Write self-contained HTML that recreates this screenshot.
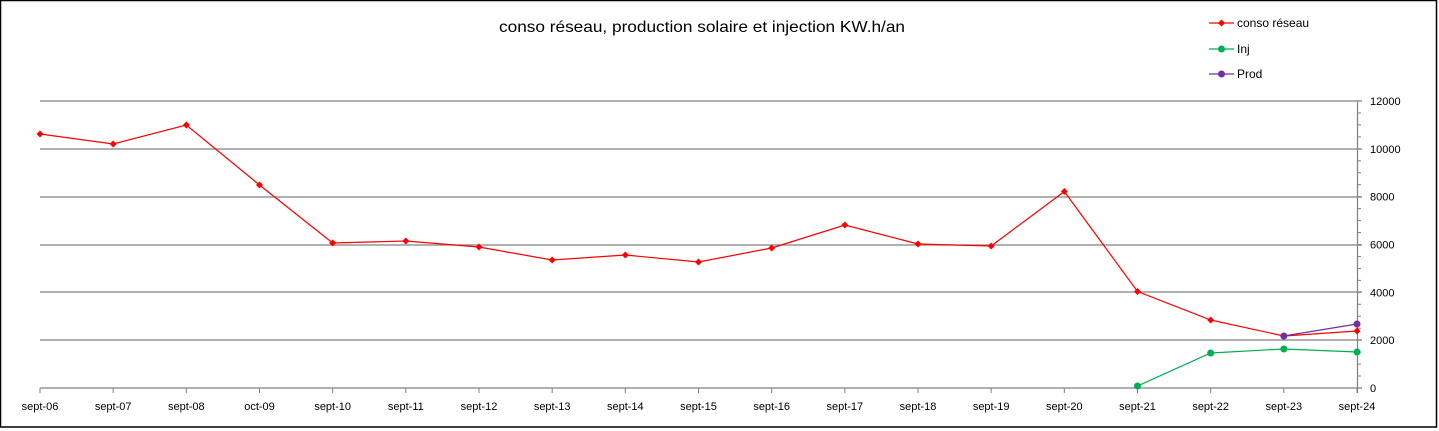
<!DOCTYPE html>
<html><head><meta charset="utf-8"><style>html,body{margin:0;padding:0;background:#fff}svg{display:block}</style></head>
<body>
<svg width="1439" height="431" xmlns="http://www.w3.org/2000/svg" font-family="Liberation Sans, sans-serif">
<rect x="0.5" y="0.5" width="1436" height="426.5" fill="#fff" stroke="#000" stroke-width="1.5"/>
<text x="702" y="32" font-size="16" text-anchor="middle" textLength="406" lengthAdjust="spacingAndGlyphs" fill="#000">conso réseau, production solaire et injection  KW.h/an</text>
<g stroke="#808080" stroke-width="1.2">
<line x1="40" y1="101" x2="1362" y2="101"/>
<line x1="40" y1="149" x2="1362" y2="149"/>
<line x1="40" y1="197" x2="1362" y2="197"/>
<line x1="40" y1="245" x2="1362" y2="245"/>
<line x1="40" y1="292" x2="1362" y2="292"/>
<line x1="40" y1="340" x2="1362" y2="340"/>
<line x1="40" y1="388" x2="1362" y2="388"/>
<line x1="1357.5" y1="101" x2="1357.5" y2="393"/>
</g>
<g stroke="#808080" stroke-width="1" id="minor"></g>
<g font-size="11" fill="#000" id="ylab"></g>
<g font-size="11" fill="#000" text-anchor="middle" id="xlab"></g>
<g id="series"></g>
<g font-size="12" fill="#000">
<line x1="1209" y1="23" x2="1234" y2="23" stroke="#ff0000" stroke-width="1.2"/>
<path d="M1221.5 19.5 L1225 23 L1221.5 26.5 L1218 23Z" fill="#ff0000"/>
<text x="1237" y="27">conso réseau</text>
<line x1="1209" y1="49" x2="1234" y2="49" stroke="#00b050" stroke-width="1.2"/>
<circle cx="1221.5" cy="49" r="3.5" fill="#00b050"/>
<text x="1237" y="53">Inj</text>
<line x1="1209" y1="74" x2="1234" y2="74" stroke="#7030a0" stroke-width="1.2"/>
<circle cx="1221.5" cy="74" r="3.5" fill="#7030a0"/>
<text x="1237" y="78">Prod</text>
</g>
</svg>
<script>
const ns="http://www.w3.org/2000/svg";
function el(t,a,p,txt){const e=document.createElementNS(ns,t);for(const k in a)e.setAttribute(k,a[k]);if(txt!==undefined)e.textContent=txt;document.getElementById(p).appendChild(e);return e;}
const yv=v=>388-v/12000*287;
for(let v=0;v<=12000;v+=500){el('line',{x1:1357.5,y1:yv(v),x2:1361,y2:yv(v)},'minor');}
for(let v=0;v<=12000;v+=2000){el('text',{x:1370,y:yv(v)+4},'ylab',String(v));}
const labs=["sept-06","sept-07","sept-08","oct-09","sept-10","sept-11","sept-12","sept-13","sept-14","sept-15","sept-16","sept-17","sept-18","sept-19","sept-20","sept-21","sept-22","sept-23","sept-24"];
const xs=i=>40+i*1317/18;
labs.forEach((l,i)=>{el('line',{x1:xs(i),y1:388,x2:xs(i),y2:393,stroke:'#808080'},'minor');el('text',{x:xs(i),y:410},'xlab',l);});
const conso=[134,144,125,185,243,241,247,260,255,262,248,225,244,246,191.5,291.5,320,336,331];
const inj=[[15,386],[16,353],[17,349],[18,352]];
const prod=[[17,336],[18,324]];
function line(pts,c,m){el('polyline',{points:pts.map(p=>xs(p[0])+','+p[1]).join(' '),fill:'none',stroke:c,'stroke-width':1.2},'series');
pts.forEach(p=>{const x=xs(p[0]),y=p[1];if(m==='d')el('path',{d:`M${x} ${y-3.5}L${x+3.5} ${y}L${x} ${y+3.5}L${x-3.5} ${y}Z`,fill:c},'series');else el('circle',{cx:x,cy:y,r:3.5,fill:c},'series');});}
line(inj,'#00b050','c');
line(conso.map((y,i)=>[i,y]),'#ff0000','d');
line(prod,'#7030a0','c');
</script>
</body></html>
